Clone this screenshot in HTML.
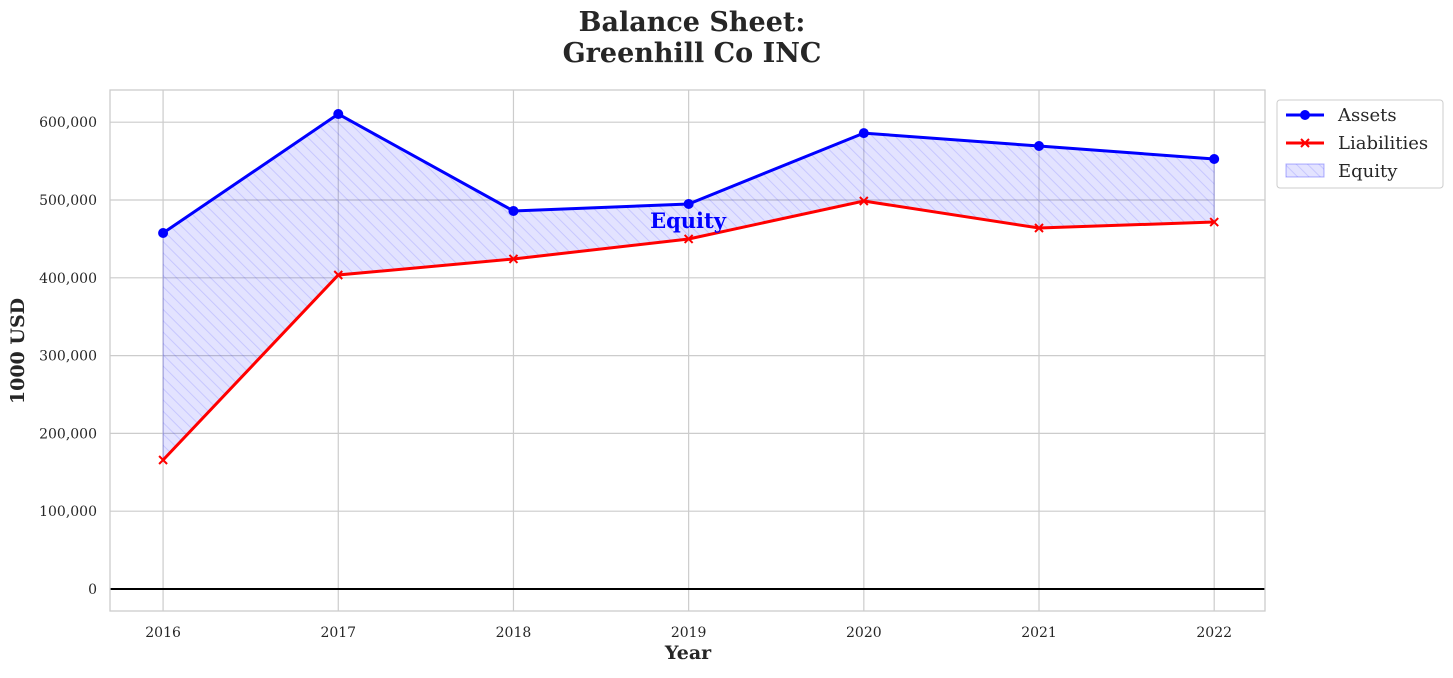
<!DOCTYPE html>
<html><head><meta charset="utf-8"><style>
body{margin:0;background:#fff;}
svg text{font-family:"DejaVu Serif","Liberation Serif",serif;}
</style></head><body>
<svg id="chart" width="1453" height="673" xmlns="http://www.w3.org/2000/svg">
<defs>
<pattern id="hatch" patternUnits="userSpaceOnUse" width="8" height="8" patternTransform="rotate(-45)">
<rect width="8" height="8" fill="rgba(0,0,255,0.11)"/>
<line x1="0" y1="0" x2="0" y2="8" stroke="rgba(0,0,255,0.12)" stroke-width="2"/>
</pattern>
</defs>
<text x="692" y="31" text-anchor="middle" font-size="27" font-weight="bold" fill="#262626">Balance Sheet:</text>
<text x="692" y="62" text-anchor="middle" font-size="27" font-weight="bold" fill="#262626">Greenhill Co INC</text>
<g id="grid"></g>
<g id="marks"></g>
<rect x="110" y="90" width="1155" height="521" fill="none" stroke="#ccc" stroke-width="1.3"/>
<text x="688" y="659" text-anchor="middle" font-size="19" font-weight="bold" fill="#262626">Year</text>
<text transform="translate(24,351) rotate(-90)" text-anchor="middle" font-size="19" font-weight="bold" fill="#262626">1000 USD</text>
<text x="688" y="228" text-anchor="middle" font-size="21" font-weight="bold" fill="#0000ff">Equity</text>
<g>
<rect x="1277" y="100" width="166" height="88" rx="3" fill="#fff" stroke="#ccc"/>
<g>
<line x1="1286" y1="115" x2="1324" y2="115" stroke="#0000ff" stroke-width="3"/><circle cx="1305" cy="115" r="5" fill="#0000ff"/>
<text x="1338" y="121" font-size="18" fill="#262626">Assets</text></g>
<g>
<line x1="1286" y1="143" x2="1324" y2="143" stroke="#ff0000" stroke-width="3"/>
<path d="M1301 139l8 8M1309 139l-8 8" stroke="#ff0000" stroke-width="2"/>
<text x="1338" y="149" font-size="18" fill="#262626">Liabilities</text></g>
<g>
<rect x="1286" y="164" width="38" height="13" fill="url(#hatch)" stroke="rgba(0,0,255,0.3)"/>
<text x="1338" y="177" font-size="18" fill="#262626">Equity</text></g>
</g>
</svg>
<script>
const years = [2016, 2017, 2018, 2019, 2020, 2021, 2022];
const assets = [457600, 610500, 485900, 494900, 586000, 569400, 552700];
const liabilities = [165800, 403600, 424200, 449900, 498700, 464000, 471700];
const yTicks = [0, 100000, 200000, 300000, 400000, 500000, 600000];

const NS = "http://www.w3.org/2000/svg";
const L = 110, R = 1265, T = 90, B = 611;
const xMin = 2015.697, xMax = 2022.29, yMin = -28300, yMax = 641400;
const xs = v => L + (v - xMin) / (xMax - xMin) * (R - L);
const ys = v => B - (v - yMin) / (yMax - yMin) * (B - T);
function mk(tag, attrs, parent) { const e = document.createElementNS(NS, tag); for (const k in attrs) e.setAttribute(k, attrs[k]); parent.appendChild(e); return e; }
const grid = document.getElementById('grid'), marks = document.getElementById('marks');
yTicks.forEach(t => {
  const l = mk('line', {x1: L, x2: R, y1: ys(t), y2: ys(t), stroke: '#ccc', 'stroke-width': 1.2}, grid);
  
  
  const tx = mk('text', {x: L - 13, y: ys(t) + 5, 'text-anchor': 'end', 'font-size': 14, fill: '#262626'}, grid);
  tx.textContent = t.toLocaleString('en-US');
  
  
});
years.forEach(y => {
  const l = mk('line', {x1: xs(y), x2: xs(y), y1: T, y2: B, stroke: '#ccc', 'stroke-width': 1.2}, grid);
  
  
  const tx = mk('text', {x: xs(y), y: B + 26, 'text-anchor': 'middle', 'font-size': 14, fill: '#262626'}, grid);
  tx.textContent = y;
  
  
});
const zl = mk('line', {x1: L, x2: R, y1: ys(0), y2: ys(0), stroke: '#000', 'stroke-width': 2}, grid);


let d = years.map((y, i) => (i ? 'L' : 'M') + xs(y) + ' ' + ys(assets[i])).join('');
for (let i = years.length - 1; i >= 0; i--) d += 'L' + xs(years[i]) + ' ' + ys(liabilities[i]);
const area = mk('path', {d: d + 'Z', fill: 'url(#hatch)', stroke: 'rgba(0,0,255,0.2)'}, marks);


const pa = mk('polyline', {points: years.map((y, i) => xs(y) + ',' + ys(assets[i])).join(' '), fill: 'none', stroke: '#0000ff', 'stroke-width': 3}, marks);


const pl = mk('polyline', {points: years.map((y, i) => xs(y) + ',' + ys(liabilities[i])).join(' '), fill: 'none', stroke: '#ff0000', 'stroke-width': 3}, marks);


years.forEach((y, i) => {
  const c = mk('circle', {cx: xs(y), cy: ys(assets[i]), r: 5, fill: '#0000ff'}, marks);
  
  
  const X = xs(y), Y = ys(liabilities[i]);
  const p = mk('path', {d: `M${X-4} ${Y-4}l8 8M${X+4} ${Y-4}l-8 8`, stroke: '#ff0000', 'stroke-width': 2}, marks);
  
  
});
</script>
</body></html>
